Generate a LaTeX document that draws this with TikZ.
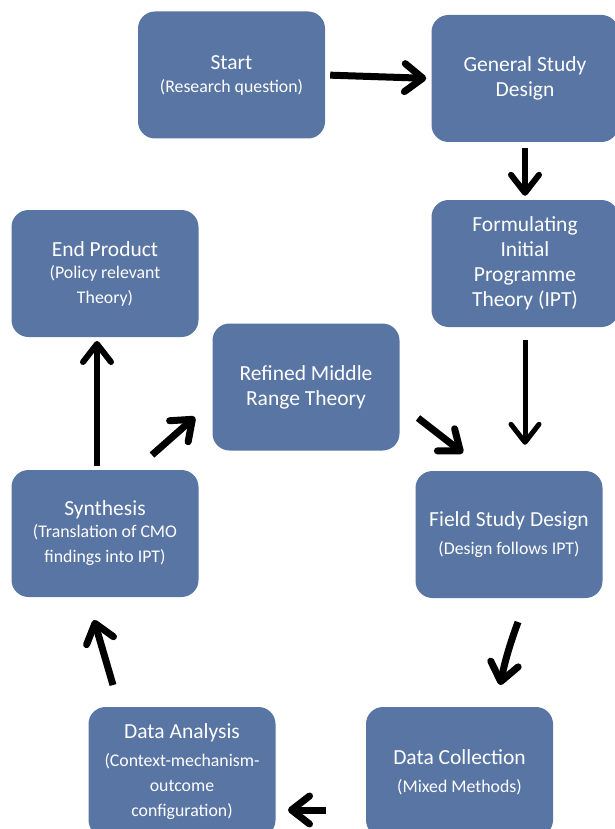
\documentclass[tikz,border=0pt]{standalone}
\usepackage{fontspec}
\setmainfont{Carlito}
\usepackage{tikz}
\usetikzlibrary{arrows.meta}
\definecolor{boxblue}{HTML}{5875A4}
\newcommand{\boxttl}{\fontsize{21.5}{25}\selectfont}
\newcommand{\boxsub}{\fontsize{17.8}{22}\selectfont}

\begin{document}
\begin{tikzpicture}[x=1pt,y=-1pt,
    box/.style={fill=boxblue,rounded corners=17pt,minimum width=187pt,minimum height=127pt,
      text=white,align=center,inner sep=2pt,font=\boxttl},
    arr/.style={-{Straight Barb[length=18pt,width=28pt,round]},line width=7pt}]
  \useasboundingbox (0,0) rectangle (615,829);
  \node[box] (start) at (231.5,75) {Start\\[-2pt]{\boxsub(Research question)}};
  \node[box] (design) at (525,78.5) {General Study\\Design};
  \node[box] (ipt) at (525,263.5) {Formulating\\Initial\\Programme\\Theory (IPT)};
  \node[box] (endprod) at (105,273.5) {End Product\\[-3pt]{\boxsub(Policy relevant}\\{\boxsub Theory)}};
  \node[box] (refined) at (306,387) {Refined Middle\\Range Theory};
  \node[box] (synth) at (105,533.5) {Synthesis\\[-3pt]{\boxsub(Translation of CMO}\\{\boxsub findings into IPT)}};
  \node[box] (field) at (509,534.5) {Field Study Design\\[3pt]{\boxsub(Design follows IPT)}};
  \node[box,minimum height=130pt] (collect) at (459.5,772) {Data Collection\\[3pt]{\boxsub(Mixed Methods)}};
  \node[box,minimum height=130pt] (analysis) at (182,772) {Data Analysis\\[3pt]{\boxsub(Context-mechanism-}\\{\boxsub outcome}\\{\boxsub configuration)}};
  \coordinate (s2e) at (97,466);
  \coordinate (e2s) at (97,341);
  \coordinate (s2r) at (152,455);
  \coordinate (r2s) at (195,417);
  \coordinate (r2f) at (418,418);
  \coordinate (f2r) at (463,453);
  \coordinate (f2c) at (518,622);
  \coordinate (c2f) at (500,685);
  \coordinate (c2a) at (326,810);
  \coordinate (a2c) at (288,810);
  \coordinate (a2s) at (113,685);
  \coordinate (s2a) at (94,620);
  \draw[arr,shorten <=5pt,shorten >=5pt] (start.east) -- (design.west);
  \draw[arr,line width=6pt,shorten <=6pt,shorten >=4pt] (design.south) -- (ipt.north);
  \draw[arr,line width=5pt,shorten <=13pt,shorten >=26pt] (ipt.south) -- (ipt.south |- field.north);
  \draw[arr,line width=6pt] (s2e) -- (e2s);
  \draw[arr] (s2r) -- (r2s);
  \draw[arr] (r2f) -- (f2r);
  \draw[arr] (f2c) to[bend right=4] (c2f);
  \draw[arr] (c2a) -- (a2c);
  \draw[arr] (a2s) -- (s2a);
\end{tikzpicture}
\end{document}
